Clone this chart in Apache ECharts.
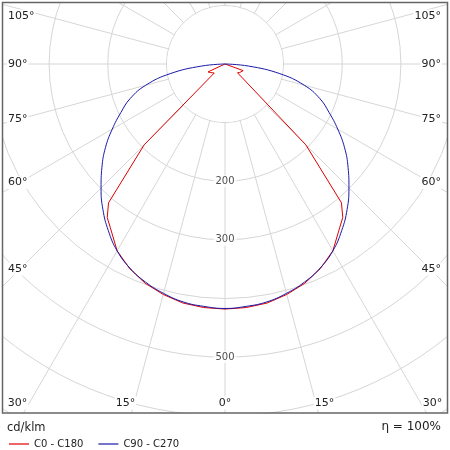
<!DOCTYPE html>
<html><head><meta charset="utf-8">
<script src="https://cdn.jsdelivr.net/npm/echarts@6/dist/echarts.min.js"></script>
<style>html,body{margin:0;padding:0;background:#fff}#c{width:450px;height:450px}</style>
</head><body><div id="c"></div>
<script>
// ---- data (cd/klm vs angle from nadir, degrees) ----
const anglesBlue = [0,5,10,15,20,25,30,35,40,45,50,55,60,65,70,75,80,85,90];
const blueC90C270 = [417,415,412,405,396,384,368,347,324,299,274,249,222,196,172,140,95,40,0];
const anglesRed = [0,5,10,15,20,25,30,35,37.5,40,45,50,55,60,65,70,75,80,85,90];
const redC0C180 = [418,417,414,407,398,385,368,341,330,309,195,24,26,29,32,33,0,0,0,0];
const radiusTickLabels = [200,300,500];
const sideAngleLabels = [105,90,75,60,45];
const bottomAngleLabels = [30,15,0];
const seriesNames = ['C0 - C180','C90 - C270'];

// ---- layout ----
const CX = 225, CY = 64, R1 = 469, RMAX = 800, RINNER = 100;
const FONT = 'DejaVu Sans';

function mirrored(angles, vals) {
  const out = [];
  for (let i = angles.length - 1; i >= 0; i--) out.push([vals[i], -angles[i]]);
  for (let i = 1; i < angles.length; i++) out.push([vals[i], angles[i]]);
  return out;
}

const labelEls = [];
function addText(text, x, y, align, size) {
  labelEls.push({type:'text', x:x, y:y, z:101,
    style:{text:text, fill:'#222', font: size + 'px "' + FONT + '"', align:align, verticalAlign:'middle',
           backgroundColor:'#fff', padding:[1,1]}});
}
sideAngleLabels.forEach(function(a){
  const r = a * Math.PI / 180;
  let y = (a === 90) ? CY : CY + (CX - 20) * Math.cos(r) / Math.sin(r);
  y = Math.max(16, y);
  addText(a + '°', 7, y, 'left', 11);
  addText(a + '°', 442, y, 'right', 11);
});
bottomAngleLabels.forEach(function(a){
  const r = a * Math.PI / 180;
  if (a === 0) { addText('0°', CX, 403, 'center', 11); return; }
  const d = (413 - CY) * Math.tan(r) + 6;
  addText(a + '°', CX - d, 403, 'center', 11);
  addText(a + '°', CX + d, 403, 'center', 11);
});

const innerR = R1 * RINNER / RMAX;

const chart = echarts.init(document.getElementById('c'));
chart.setOption({
  animation:false,
  backgroundColor:'#fff',
  polar:{center:[CX, CY], radius:R1},
  angleAxis:{type:'value', min:-180, max:180, interval:15, startAngle:90, clockwise:true, z:0,
    axisLine:{show:false}, axisTick:{show:false}, axisLabel:{show:false},
    splitLine:{show:true, lineStyle:{color:'#d6d6d6', width:1}}},
  radiusAxis:{type:'value', min:0, max:RMAX, interval:100, z:0,
    axisLine:{show:false}, axisTick:{show:false}, axisLabel:{show:false},
    splitLine:{show:true, lineStyle:{color:'#d6d6d6', width:1}}},
  legend:{left:4, top:434, z:200, itemWidth:20, itemHeight:1.2, itemGap:15, icon:'rect',
    data:seriesNames, selectedMode:false,
    textStyle:{fontFamily:FONT, fontSize:10, color:'#222'}},
  series:[
    {name:seriesNames[0], type:'line', coordinateSystem:'polar', data:mirrored(anglesRed, redC0C180),
     symbol:'none', clip:false, smooth:false, z:3,
     itemStyle:{color:'#e00000'}, lineStyle:{color:'#e00000', width:1}},
    {name:seriesNames[1], type:'line', coordinateSystem:'polar', data:mirrored(anglesBlue, blueC90C270),
     symbol:'none', clip:false, smooth:0.45, z:4,
     itemStyle:{color:'#1a1aa8'}, lineStyle:{color:'#1a1aa8', width:1}},
    {type:'scatter', coordinateSystem:'polar', data:radiusTickLabels.map(function(v){return [v,0];}),
     symbolSize:1, itemStyle:{color:'rgba(0,0,0,0)'}, z:5, silent:true,
     label:{show:true, position:'inside', formatter:function(p){return String(p.value[0]);},
       fontFamily:FONT, fontSize:10, color:'#222', backgroundColor:'#fff', padding:[1,2]}}
  ],
  graphic:{elements:[
    {type:'circle', z:1, shape:{cx:CX, cy:CY, r:innerR - 0.8}, style:{fill:'#fff'}},
    {type:'rect', z:100, shape:{x:0, y:413.5, width:450, height:40}, style:{fill:'#fff'}},
    {type:'rect', z:100, shape:{x:0, y:0, width:2, height:450}, style:{fill:'#fff'}},
    {type:'rect', z:100, shape:{x:448, y:0, width:2, height:450}, style:{fill:'#fff'}},
    {type:'rect', z:100, shape:{x:0, y:0, width:450, height:2}, style:{fill:'#fff'}},
    {type:'rect', z:102, shape:{x:2.5, y:2.5, width:445, height:410.5}, style:{fill:'none', stroke:'#666', lineWidth:1.5}},
    {type:'text', z:102, x:7, y:428, style:{text:'cd/klm', fill:'#222', font:'11.5px "' + FONT + '"', verticalAlign:'middle'}},
    {type:'text', z:102, x:441, y:427, style:{text:'η = 100%', fill:'#222', font:'12px "' + FONT + '"', align:'right', verticalAlign:'middle'}}
  ].concat(labelEls)}
});
</script></body></html>
